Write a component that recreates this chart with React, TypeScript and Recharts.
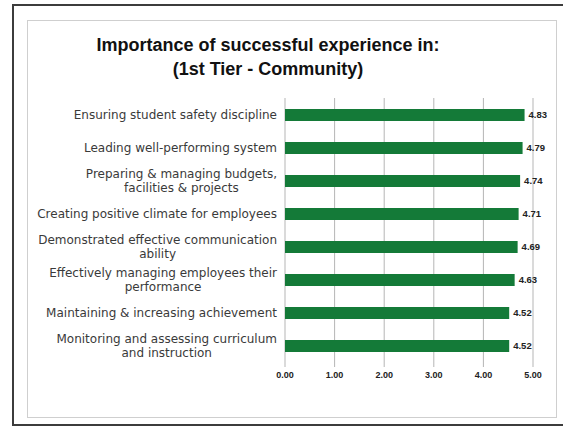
import React from 'react';
import { BarChart, Bar, XAxis, YAxis, CartesianGrid, LabelList } from 'recharts';

// categories (line breaks follow the original label wrapping)
const categories = [
  'Ensuring student safety discipline',
  'Leading well-performing system',
  'Preparing & managing budgets,\nfacilities & projects',
  'Creating positive climate for employees',
  'Demonstrated effective communication\nability',
  'Effectively managing employees their\nperformance',
  'Maintaining & increasing achievement',
  'Monitoring and assessing curriculum\nand instruction',
];
const scores = [4.83, 4.79, 4.74, 4.71, 4.69, 4.63, 4.52, 4.52];
const xTicks = [0, 1, 2, 3, 4, 5];
const titleLines = ['Importance of successful experience in:', '(1st Tier - Community)'];

const data = categories.map((name, i) => ({ name, score: scores[i] }));

const LABEL_FONT = '12px "DejaVu Sans"';
let ctx: CanvasRenderingContext2D | null = null;
const measure = (text: string) => {
  if (!ctx) ctx = document.createElement('canvas').getContext('2d');
  if (!ctx) return text.length * 6;
  ctx.font = LABEL_FONT;
  return ctx.measureText(text).width;
};

// right-aligned block, each line centred inside it
const CategoryTick = ({ x, y, payload }: any) => {
  const lines: string[] = String(payload.value).split('\n');
  const w = Math.max(...lines.map(measure));
  const cx = x - 8 - w / 2;
  const lh = 14;
  const top = y - ((lines.length - 1) * lh) / 2;
  return (
    <g>
      {lines.map((l, i) => (
        <text
          key={i}
          x={cx}
          y={top + i * lh}
          dy="0.36em"
          textAnchor="middle"
          fontFamily="DejaVu Sans"
          fontSize={12}
          fill="#3a3a3a"
        >
          {l}
        </text>
      ))}
    </g>
  );
};

export default function App() {
  return (
    <div
      style={{
        position: 'absolute',
        left: 0,
        top: 0,
        width: 563,
        height: 430,
        background: '#fff',
        overflow: 'hidden',
        fontFamily: 'Arial, "Liberation Sans", sans-serif',
      }}
    >
      {/* outer frame */}
      <div
        style={{
          position: 'absolute',
          left: 12,
          top: 4,
          width: 570,
          height: 422,
          border: '2px solid #3c3c3c',
          boxSizing: 'border-box',
        }}
      />
      {/* inner frame */}
      <div
        style={{
          position: 'absolute',
          left: 27,
          top: 20,
          width: 530,
          height: 398,
          border: '1px solid #cfcfcf',
          boxSizing: 'border-box',
        }}
      />
      <div
        style={{
          position: 'absolute',
          left: 0,
          top: 33,
          width: 536,
          textAlign: 'center',
          fontWeight: 'bold',
          fontSize: 18,
          lineHeight: '24px',
          color: '#111',
        }}
      >
        {titleLines.map((t) => (
          <div key={t}>{t}</div>
        ))}
      </div>
      <div style={{ position: 'absolute', left: 0, top: 0 }}>
        <BarChart
          width={563}
          height={430}
          data={data}
          layout="vertical"
          margin={{ top: 98, right: 30, bottom: 38, left: 0 }}
          barCategoryGap={0}
        >
          <CartesianGrid horizontal={false} stroke="#b5b5b5" />
          <XAxis
            type="number"
            domain={[0, 5]}
            ticks={xTicks}
            height={30}
            axisLine={false}
            tickLine={{ stroke: '#b5b5b5' }}
            tickSize={5}
            tickMargin={5}
            tick={{ fontSize: 9, fontWeight: 'bold', fill: '#222' }}
            tickFormatter={(v: number) => v.toFixed(2)}
          />
          <YAxis
            type="category"
            dataKey="name"
            width={285}
            axisLine={false}
            tickLine={false}
            tickSize={0}
            tickMargin={0}
            interval={0}
            tick={<CategoryTick />}
          />
          <Bar dataKey="score" fill="#147a38" barSize={12} isAnimationActive={false}>
            <LabelList
              dataKey="score"
              position="right"
              offset={4}
              formatter={(v: any) => Number(v).toFixed(2)}
              style={{ fontSize: 9.5, fontWeight: 'bold', fill: '#222' }}
            />
          </Bar>
        </BarChart>
      </div>
    </div>
  );
}
